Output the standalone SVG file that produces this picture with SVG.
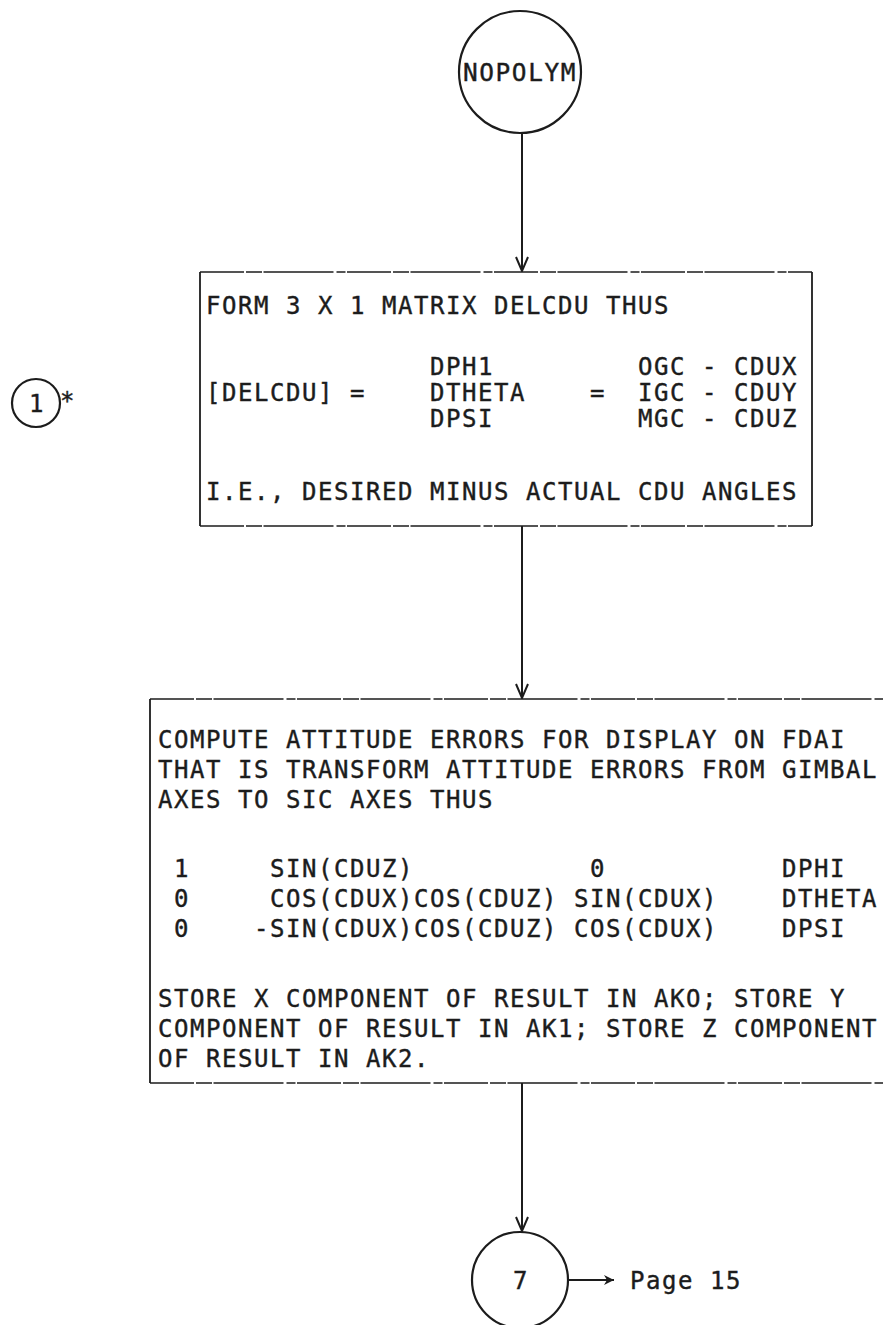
<svg xmlns="http://www.w3.org/2000/svg" width="883" height="1325" viewBox="0 0 883 1325">
<style>
text{font-family:"DejaVu Sans Mono","Liberation Mono",monospace;font-size:24px;letter-spacing:1.55px;fill:#1c1c1c;stroke:#1c1c1c;stroke-width:0.4}
.c{fill:none;stroke:#1c1c1c;stroke-width:2.2}
.s{stroke:#1c1c1c;stroke-width:1.8;fill:none}
.d{stroke:#1c1c1c;stroke-width:1.7;fill:none;stroke-dasharray:44 2 16 1.5 70 3 9 1.5}
.w{stroke:#1c1c1c;stroke-width:2;fill:none}
</style>
<defs>
<marker id="ah" markerWidth="16" markerHeight="16" refX="15" refY="8" orient="auto" markerUnits="userSpaceOnUse" viewBox="0 0 16 16">
<path d="M1 2 L15 8 L1 14" fill="none" stroke="#1c1c1c" stroke-width="2"/>
</marker>
<marker id="ar" markerWidth="12" markerHeight="12" refX="11" refY="6" orient="auto" markerUnits="userSpaceOnUse" viewBox="0 0 12 12">
<path d="M1 1 L11 6 L1 11 L4 6 Z" fill="#1c1c1c"/>
</marker>
</defs>
<g id="connectors">
<line class="w" x1="522" y1="133" x2="522" y2="271" marker-end="url(#ah)"/>
<line class="w" x1="522" y1="526" x2="522" y2="698" marker-end="url(#ah)"/>
<line class="w" x1="522" y1="1083" x2="522" y2="1231" marker-end="url(#ah)"/>
<line class="w" x1="568" y1="1280" x2="614" y2="1280" marker-end="url(#ar)"/>
</g>
<g id="nopolym">
<circle class="c" cx="520" cy="72" r="61"/>
<text x="520" y="81" text-anchor="middle" textLength="114" lengthAdjust="spacingAndGlyphs">NOPOLYM</text>
</g>
<g id="ref1">
<circle class="c" cx="36" cy="403" r="24"/>
<text x="37" y="412" text-anchor="middle">1</text>
<text x="60" y="409" font-size="20">*</text>
</g>
<g id="box1">
<line class="d" x1="200" y1="272" x2="812" y2="272"/>
<line class="d" x1="200" y1="526" x2="812" y2="526"/>
<line class="s" x1="200" y1="272" x2="200" y2="526"/>
<line class="s" x1="812" y1="272" x2="812" y2="526"/>
<text x="206" y="314">FORM 3 X 1 MATRIX DELCDU THUS</text>
<text x="430" y="375">DPH1</text>
<text x="638" y="375">OGC - CDUX</text>
<text x="206" y="401">[DELCDU] =</text>
<text x="430" y="401">DTHETA</text>
<text x="590" y="401">=</text>
<text x="638" y="401">IGC - CDUY</text>
<text x="430" y="427">DPSI</text>
<text x="638" y="427">MGC - CDUZ</text>
<text x="206" y="500">I.E., DESIRED MINUS ACTUAL CDU ANGLES</text>
</g>
<g id="box2">
<line class="d" x1="150" y1="699" x2="883" y2="699"/>
<line class="d" x1="150" y1="1083" x2="883" y2="1083"/>
<line class="s" x1="150" y1="699" x2="150" y2="1083"/>
<text x="158" y="748">COMPUTE ATTITUDE ERRORS FOR DISPLAY ON FDAI</text>
<text x="158" y="778">THAT IS TRANSFORM ATTITUDE ERRORS FROM GIMBAL</text>
<text x="158" y="808">AXES TO SIC AXES THUS</text>
<text x="174" y="877">1</text>
<text x="270" y="877">SIN(CDUZ)</text>
<text x="590" y="877">0</text>
<text x="782" y="877">DPHI</text>
<text x="174" y="907">0</text>
<text x="270" y="907">COS(CDUX)COS(CDUZ) SIN(CDUX)</text>
<text x="782" y="907">DTHETA</text>
<text x="174" y="937">0</text>
<text x="254" y="937">-SIN(CDUX)COS(CDUZ) COS(CDUX)</text>
<text x="782" y="937">DPSI</text>
<text x="158" y="1007">STORE X COMPONENT OF RESULT IN AKO; STORE Y</text>
<text x="158" y="1037">COMPONENT OF RESULT IN AK1; STORE Z COMPONENT</text>
<text x="158" y="1067">OF RESULT IN AK2.</text>
</g>
<g id="conn7">
<circle class="c" cx="520" cy="1280" r="48"/>
<text x="521" y="1289" text-anchor="middle">7</text>
</g>
<g id="page15">
<text x="630" y="1289" letter-spacing="0.5">Page 15</text>
</g>
</svg>
